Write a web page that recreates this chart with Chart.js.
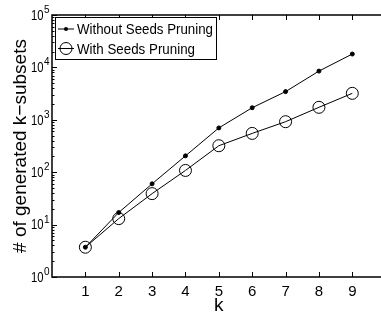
<!DOCTYPE html>
<html>
<head>
<meta charset="utf-8">
<script src="https://cdn.jsdelivr.net/npm/chart.js@4"></script>
<style>
  html, body { margin: 0; padding: 0; background: #fff; overflow: hidden; }
</style>
</head>
<body>
<canvas id="chart" width="381" height="314"></canvas>
<script>
// données
const ks = [1, 2, 3, 4, 5, 6, 7, 8, 9];
const withoutPruning = [3.7, 17, 60, 205, 700, 1700, 3450, 8500, 18000];
const withPruning = [3.7, 13, 39, 108, 320, 550, 920, 1730, 3200];
const xTicks = [1, 2, 3, 4, 5, 6, 7, 8, 9];
const yExponents = [0, 1, 2, 3, 4, 5];
const seriesNames = ['Without Seeds Pruning', 'With Seeds Pruning'];

const FONT = '"Liberation Sans", Arial, Helvetica, sans-serif';

// Axes, graduations et légende façon MATLAB (le bord droit sort de l'image)
const matlabAxes = {
  id: 'matlabAxes',
  afterDatasetsDraw(chart) {
    const ctx = chart.ctx;
    const a = chart.chartArea;
    const xs = chart.scales.x;
    const ys = chart.scales.y;
    ctx.save();
    ctx.strokeStyle = '#000';
    ctx.fillStyle = '#000';

    // cadre : gauche, haut, bas
    ctx.lineWidth = 1.5;
    ctx.beginPath();
    ctx.moveTo(chart.width, a.top);
    ctx.lineTo(a.left, a.top);
    ctx.lineTo(a.left, a.bottom);
    ctx.lineTo(chart.width, a.bottom);
    ctx.stroke();

    // graduations x (vers l'intérieur, haut et bas)
    ctx.lineWidth = 1;
    ctx.beginPath();
    xTicks.forEach(v => {
      const px = Math.round(xs.getPixelForValue(v)) + 0.5;
      ctx.moveTo(px, a.bottom); ctx.lineTo(px, a.bottom - 5);
      ctx.moveTo(px, a.top); ctx.lineTo(px, a.top + 5);
    });
    // graduations y majeures et mineures
    yExponents.forEach(e => {
      const py = Math.round(ys.getPixelForValue(Math.pow(10, e))) + 0.5;
      ctx.moveTo(a.left, py); ctx.lineTo(a.left + 5, py);
      if (e < 5) {
        for (let m = 2; m <= 9; m++) {
          const my = Math.round(ys.getPixelForValue(m * Math.pow(10, e))) + 0.5;
          ctx.moveTo(a.left, my); ctx.lineTo(a.left + 2.5, my);
        }
      }
    });
    ctx.stroke();

    // étiquettes x
    ctx.font = '15px ' + FONT;
    ctx.textAlign = 'center';
    ctx.textBaseline = 'alphabetic';
    xTicks.forEach(v => {
      ctx.fillText(String(v), xs.getPixelForValue(v), 296);
    });

    // étiquettes y : 10^n
    yExponents.forEach(e => {
      const py = ys.getPixelForValue(Math.pow(10, e));
      ctx.font = '14px ' + FONT;
      ctx.textAlign = 'right';
      ctx.textBaseline = 'middle';
      ctx.fillText('10', 43.5, py + 1, 12.5);
      ctx.font = '10px ' + FONT;
      ctx.textAlign = 'left';
      ctx.textBaseline = 'alphabetic';
      ctx.fillText(String(e), 44, py - 2);
    });

    // titres (k centré sur l'axe complet 0..10)
    ctx.font = '19px ' + FONT;
    ctx.textAlign = 'center';
    ctx.textBaseline = 'alphabetic';
    ctx.fillText('k', (xs.getPixelForValue(0) + xs.getPixelForValue(10)) / 2, 311);
    ctx.save();
    ctx.translate(26, (a.top + a.bottom) / 2);
    ctx.rotate(-Math.PI / 2);
    ctx.fillText('# of generated k\u2212subsets', 0, 0);
    ctx.restore();

    // légende
    const lx = 55.5, ly = 17.5, lw = 161, lh = 42;
    ctx.fillStyle = '#fff';
    ctx.fillRect(lx, ly, lw, lh);
    ctx.strokeStyle = '#000';
    ctx.lineWidth = 1;
    ctx.strokeRect(lx, ly, lw, lh);
    ctx.fillStyle = '#000';
    const rows = [29, 48.5];
    rows.forEach((ry, i) => {
      ctx.beginPath();
      ctx.moveTo(58, ry); ctx.lineTo(74, ry);
      ctx.stroke();
      ctx.beginPath();
      if (i === 0) {
        ctx.arc(66, ry, 2, 0, Math.PI * 2);
        ctx.fill();
      } else {
        ctx.arc(66, ry, 6, 0, Math.PI * 2);
        ctx.stroke();
      }
      ctx.font = '15px ' + FONT;
      ctx.textAlign = 'left';
      ctx.textBaseline = 'middle';
      ctx.fillText(seriesNames[i], 77, ry + 1, i === 0 ? 136 : 118);
    });
    ctx.restore();
  }
};

const ctx = document.getElementById('chart').getContext('2d');
new Chart(ctx, {
  type: 'line',
  data: {
    datasets: [
      {
        label: seriesNames[0],
        data: ks.map((k, i) => ({ x: k, y: withoutPruning[i] })),
        borderColor: '#000',
        backgroundColor: '#000',
        borderWidth: 1,
        pointRadius: 2,
        pointBorderWidth: 1,
        tension: 0
      },
      {
        label: seriesNames[1],
        data: ks.map((k, i) => ({ x: k, y: withPruning[i] })),
        borderColor: '#000',
        backgroundColor: 'rgba(0,0,0,0)',
        borderWidth: 1,
        pointRadius: 6,
        pointBorderWidth: 1,
        tension: 0
      }
    ]
  },
  options: {
    responsive: false,
    animation: false,
    devicePixelRatio: 1,
    layout: { autoPadding: false, padding: { left: 52, top: 15, right: 0, bottom: 37 } },
    plugins: { legend: { display: false }, tooltip: { enabled: false } },
    scales: {
      x: { type: 'linear', min: 0, max: 9.86, display: false },
      y: { type: 'logarithmic', min: 1, max: 100000, display: false }
    }
  },
  plugins: [matlabAxes]
});
</script>
</body>
</html>
